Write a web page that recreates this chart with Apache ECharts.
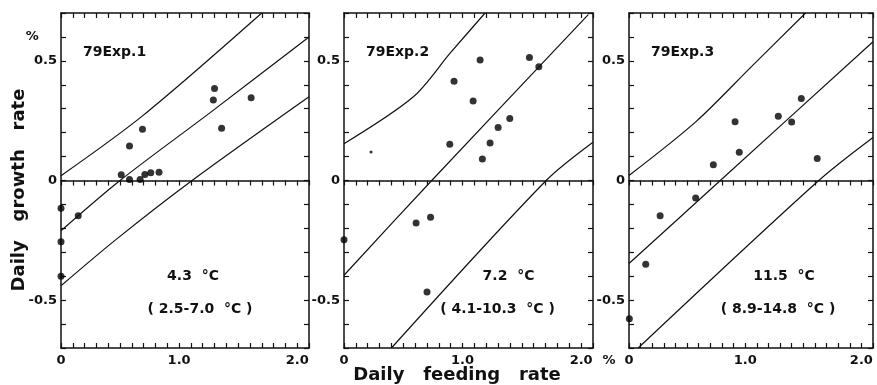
<!DOCTYPE html>
<html>
<head>
<meta charset="utf-8">
<script src="https://cdn.jsdelivr.net/npm/echarts@6/dist/echarts.min.js"></script>
<style>
html, body { margin: 0; padding: 0; background: #fff; }
#chart { width: 877px; height: 385px; }
</style>
</head>
<body>
<div id="chart"></div>
<script>
// points: [feeding rate, growth rate] in %
var exp1Points = [[0.51, 0.024], [0.58, 0.144], [0.69, 0.214], [0.58, 0.004], [0.67, 0.004],
    [0.71, 0.025], [0.76, 0.032], [0.83, 0.035], [1.29, 0.336], [1.30, 0.385], [1.36, 0.218],
    [1.61, 0.346], [0, -0.116], [0.146, -0.147], [0, -0.256], [0, -0.40]];
var exp2Points = [[1.148, 0.504], [1.564, 0.514], [1.643, 0.475], [0.928, 0.415], [1.089, 0.332],
    [1.398, 0.259], [1.30, 0.221], [1.232, 0.157], [0.892, 0.151], [1.167, 0.090],
    [0, -0.248], [0.608, -0.178], [0.73, -0.154], [0.70, -0.466]];
var exp2Speck = [[0.228, 0.119]];
var exp3Points = [[0.913, 0.246], [0.949, 0.118], [0.726, 0.066], [1.285, 0.269], [1.40, 0.245],
    [1.483, 0.343], [1.62, 0.092], [0.574, -0.073], [0.268, -0.147], [0.144, -0.35], [0.003, -0.578]];

// regression line and its limits
var exp1Upper = [[0, 0.02], [0.69, 0.27], [1.70, 0.70]];
var exp1Middle = [[0, -0.21], [0.5, 0], [1.28, 0.29], [2.1, 0.6]];
var exp1Lower = [[0, -0.44], [0.47, -0.245], [1.11, 0], [2.1, 0.35]];
var exp2Upper = [[0, 0.154], [0.585, 0.35], [0.895, 0.532], [1.19, 0.7]];
var exp2Middle = [[0, -0.396], [0.74, 0], [2.06, 0.693]];
var exp2Lower = [[0.40, -0.70], [1.705, 0], [2.1, 0.16]];
var exp3Upper = [[0, 0.021], [0.574, 0.245], [1.054, 0.476], [1.52, 0.70]];
var exp3Middle = [[0, -0.347], [0.786, 0], [2.1, 0.58]];
var exp3Lower = [[0.079, -0.70], [1.633, 0], [2.1, 0.18]];

var expNames = ['79Exp.1', '79Exp.2', '79Exp.3'];
var tempMeans = ['4.3  °C', '7.2  °C', '11.5  °C'];
var tempRanges = ['( 2.5-7.0  °C )', '( 4.1-10.3  °C )', '( 8.9-14.8  °C )'];
var xTickLabels = {0: '0', 10: '1.0', 20: '2.0'};
var yTickLabels = {5: '0.5', 0: '0', '-5': '-0.5'};

var FONT = 'DejaVu Sans';
var panels = [
    {left: 61, width: 248, pts: exp1Points, lines: [exp1Upper, exp1Middle, exp1Lower]},
    {left: 344, width: 249, pts: exp2Points, lines: [exp2Upper, exp2Middle, exp2Lower]},
    {left: 629, width: 244, pts: exp3Points, lines: [exp3Upper, exp3Middle, exp3Lower]}
];

var chart = echarts.init(document.getElementById('chart'));
var grids = [], xAxes = [], yAxes = [], series = [], graphics = [];
var axisLine = {lineStyle: {color: '#111', width: 1.5}};
var tickStyle = {color: '#111', width: 1.2};

panels.forEach(function(p, i) {
    grids.push({left: p.left, top: 13, width: p.width, height: 335});
    var xBase = {gridIndex: i, type: 'value', min: 0, max: 2.1, interval: 0.1,
        splitLine: {show: false}};
    // bottom axis with labels
    xAxes.push(Object.assign({}, xBase, {
        position: 'bottom',
        axisLine: {show: true, onZero: false, lineStyle: axisLine.lineStyle},
        axisTick: {inside: true, length: 5, lineStyle: tickStyle},
        axisLabel: {interval: 0, margin: 6, color: '#111', fontFamily: FONT, fontWeight: 'bold', fontSize: 13,
            formatter: function(v) { return xTickLabels[Math.round(v * 10)] || ''; }}
    }));
    // top frame
    xAxes.push(Object.assign({}, xBase, {
        position: 'top',
        axisLine: {show: true, onZero: false, lineStyle: axisLine.lineStyle},
        axisTick: {inside: true, length: 5, lineStyle: tickStyle},
        axisLabel: {show: false}
    }));
    // zero line
    xAxes.push(Object.assign({}, xBase, {
        position: 'bottom',
        axisLine: {show: true, onZero: true, lineStyle: axisLine.lineStyle},
        axisTick: {inside: false, length: 5, lineStyle: tickStyle},
        axisLabel: {show: false}
    }));
    yAxes.push({gridIndex: i, type: 'value', min: -0.7, max: 0.7, interval: 0.1, position: 'left',
        splitLine: {show: false},
        axisLine: {show: true, onZero: false, lineStyle: axisLine.lineStyle},
        axisTick: {inside: true, length: 5, lineStyle: tickStyle},
        axisLabel: {interval: 0, margin: 4, color: '#111', fontFamily: FONT, fontWeight: 'bold', fontSize: 13,
            formatter: function(v) {
                var r = Math.round(v * 10);
                if (r === 6 && i === 0) return '%    ';
                return yTickLabels[r] || '';
            }}
    });
    yAxes.push({gridIndex: i, type: 'value', min: -0.7, max: 0.7, interval: 0.1, position: 'right',
        splitLine: {show: false},
        axisLine: {show: true, onZero: false, lineStyle: axisLine.lineStyle},
        axisTick: {inside: true, length: 5, lineStyle: tickStyle},
        axisLabel: {show: false}
    });
    p.lines.forEach(function(ln) {
        series.push({type: 'line', xAxisIndex: i * 3, yAxisIndex: i * 2, data: ln,
            symbol: 'none', smooth: 0.3, lineStyle: {color: '#111', width: 1.2}, silent: true});
    });
    series.push({type: 'scatter', xAxisIndex: i * 3, yAxisIndex: i * 2, data: p.pts,
        symbolSize: 7, itemStyle: {color: '#000'}, silent: true});
    var cx = p.left + p.width / 2;
    graphics.push({type: 'text', left: p.left + 22, top: 45,
        style: {text: expNames[i], font: 'bold 14px "' + FONT + '"', fill: '#111'}});
    graphics.push({type: 'text', x: cx + [8, 40, 33][i], y: 276,
        style: {text: tempMeans[i], font: 'bold 14px "' + FONT + '"', fill: '#111', align: 'center', verticalAlign: 'middle'}});
    graphics.push({type: 'text', x: cx + [15, 29, 27][i], y: 309,
        style: {text: tempRanges[i], font: 'bold 14px "' + FONT + '"', fill: '#111', align: 'center', verticalAlign: 'middle'}});
});

series.push({type: 'scatter', xAxisIndex: 3, yAxisIndex: 2, data: exp2Speck,
    symbolSize: 3, itemStyle: {color: '#000'}, silent: true});

graphics.push({type: 'text', x: 609, y: 361,
    style: {text: '%', font: 'bold 13px "' + FONT + '"', fill: '#111', align: 'center', verticalAlign: 'middle'}});

chart.setOption({
    backgroundColor: '#fff',
    animation: false,
    grid: grids,
    xAxis: xAxes,
    yAxis: yAxes,
    series: series,
    title: [
        {text: 'Daily  growth  rate', show: false},
    ],
    graphic: graphics.concat([
        {type: 'text', x: 19, y: 190, rotation: Math.PI / 2,
            style: {text: 'Daily   growth   rate', font: 'bold 18px "' + FONT + '"', fill: '#111', align: 'center', verticalAlign: 'middle'}},
        {type: 'text', x: 457, y: 375,
            style: {text: 'Daily   feeding   rate', font: 'bold 18px "' + FONT + '"', fill: '#111', align: 'center', verticalAlign: 'middle'}}
    ])
});
</script>
</body>
</html>
